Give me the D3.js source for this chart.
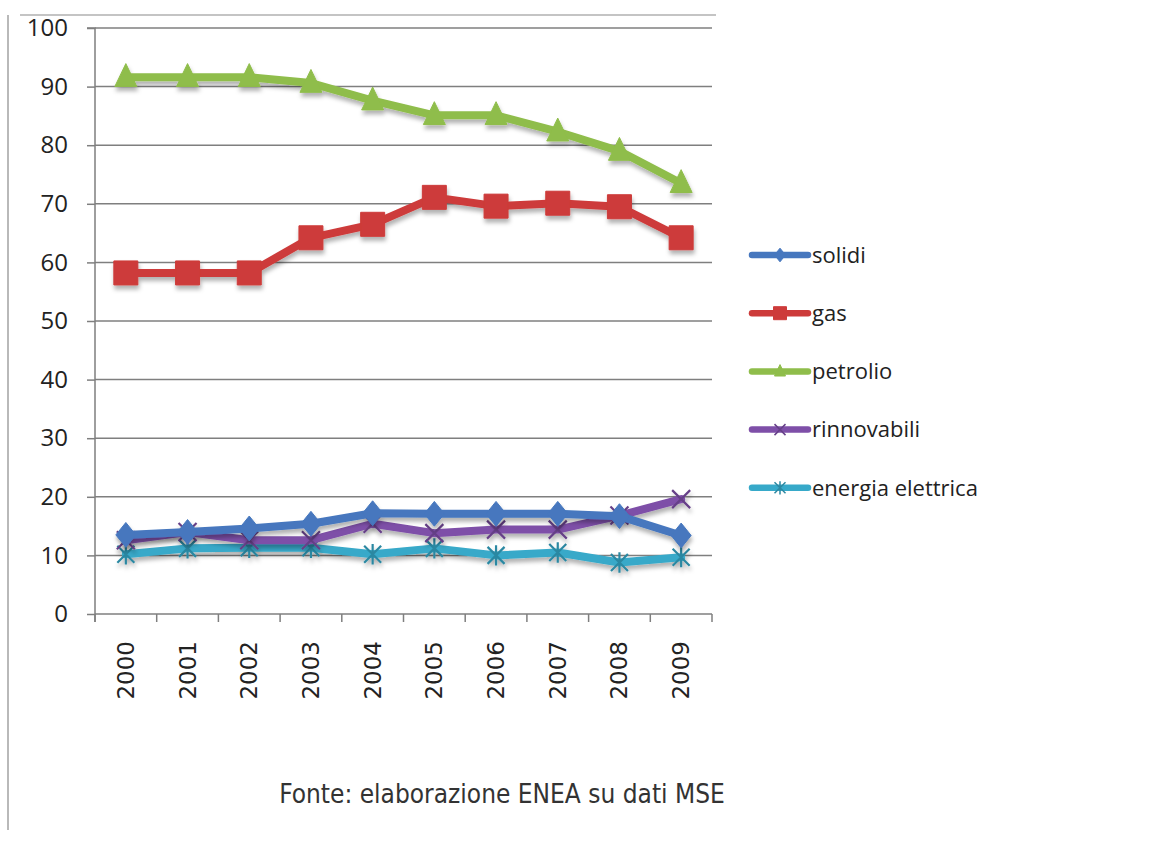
<!DOCTYPE html>
<html>
<head>
<meta charset="utf-8">
<script src="https://cdn.jsdelivr.net/npm/d3@7"></script>
<style>
  html, body { margin: 0; padding: 0; background: #fff; }
  svg { display: block; }
</style>
</head>
<body>
<svg id="chart" width="1149" height="859"></svg>
<script>
// Consumi finali per fonte, 2000-2009
const years = ["2000","2001","2002","2003","2004","2005","2006","2007","2008","2009"];
const solidi = [13.5, 14.0, 14.6, 15.4, 17.2, 17.1, 17.1, 17.1, 16.7, 13.4];
const gas = [58.2, 58.2, 58.2, 64.2, 66.5, 71.1, 69.6, 70.1, 69.5, 64.2];
const petrolio = [91.6, 91.6, 91.6, 90.6, 87.6, 85.1, 85.1, 82.3, 79.0, 73.5];
const rinnovabili = [12.6, 14.0, 12.6, 12.6, 15.4, 13.8, 14.4, 14.4, 16.8, 19.6];
const energiaElettrica = [10.2, 11.2, 11.3, 11.3, 10.2, 11.2, 10.0, 10.5, 8.8, 9.7];
const seriesNames = ["solidi", "gas", "petrolio", "rinnovabili", "energia elettrica"];
const yTicks = [0, 10, 20, 30, 40, 50, 60, 70, 80, 90, 100];
const sourceNote = "Fonte: elaborazione ENEA su dati MSE";

const series = [
  { name: seriesNames[0], values: solidi, color: "#4677BE", marker: "diamond" },
  { name: seriesNames[1], values: gas, color: "#CD3B3A", marker: "square" },
  { name: seriesNames[2], values: petrolio, color: "#8FBD4B", marker: "triangle" },
  { name: seriesNames[3], values: rinnovabili, color: "#7E4FA8", marker: "cross" },
  { name: seriesNames[4], values: energiaElettrica, color: "#37A9C9", marker: "star" }
];

const svg = d3.select("#chart");
const plot = { left: 95, right: 712, top: 28, bottom: 614 };

const x = d3.scaleBand().domain(years).range([plot.left, plot.right]);
const y = d3.scaleLinear().domain([0, 100]).range([plot.bottom, plot.top]);

// soft shadow under the lines
const defs = svg.append("defs");
const f = defs.append("filter").attr("id", "shadow")
  .attr("x", "-10%").attr("y", "-30%").attr("width", "120%").attr("height", "160%");
f.append("feDropShadow").attr("dx", 1).attr("dy", 4).attr("stdDeviation", 2.2)
  .attr("flood-color", "#000").attr("flood-opacity", 0.3);

// outer frame fragments
svg.append("line").attr("x1", 8).attr("x2", 8).attr("y1", 15).attr("y2", 830)
  .attr("stroke", "#8a8a8a").attr("stroke-width", 1.2);
svg.append("line").attr("x1", 20).attr("x2", 716).attr("y1", 15).attr("y2", 15)
  .attr("stroke", "#8a8a8a").attr("stroke-width", 1.2);

// gridlines
svg.append("g").selectAll("line").data(yTicks.filter(d => d > 0)).join("line")
  .attr("x1", plot.left).attr("x2", plot.right)
  .attr("y1", d => y(d)).attr("y2", d => y(d))
  .attr("stroke", "#7f7f7f").attr("stroke-width", 1.5);

// y axis
const yAxis = svg.append("g").attr("transform", `translate(${plot.left},0)`)
  .call(d3.axisLeft(y).tickValues(yTicks).tickSize(8).tickPadding(19).tickFormat(d3.format("d")));
yAxis.select(".domain").attr("stroke", "#7f7f7f").attr("stroke-width", 1.5)
  .attr("d", `M-8,${plot.top}H0V${plot.bottom + 8}`);
yAxis.selectAll(".tick line").attr("stroke", "#7f7f7f").attr("stroke-width", 1.5);
yAxis.selectAll(".tick text")
  .attr("font-family", "'Open Sans', 'Liberation Sans', sans-serif")
  .attr("font-size", 24).attr("fill", "#222");

// x axis with ticks at category boundaries
const xAxisG = svg.append("g").attr("transform", `translate(0,${plot.bottom})`);
xAxisG.append("line").attr("x1", plot.left).attr("x2", plot.right)
  .attr("stroke", "#7f7f7f").attr("stroke-width", 1.5);
const bounds = years.map(d => x(d)).concat([x(years[years.length - 1]) + x.bandwidth()]);
xAxisG.selectAll("line.tk").data(bounds).join("line").attr("class", "tk")
  .attr("x1", d => d).attr("x2", d => d).attr("y1", 0).attr("y2", 8)
  .attr("stroke", "#7f7f7f").attr("stroke-width", 1.5);
xAxisG.selectAll("text").data(years).join("text")
  .attr("transform", d => `translate(${x(d) + x.bandwidth() / 2 + 8},27) rotate(-90)`)
  .attr("text-anchor", "end")
  .attr("font-family", "'DejaVu Sans', Verdana, sans-serif")
  .attr("font-size", 23).attr("fill", "#222")
  .text(d => d);

// markers
function markerPath(type, s) {
  switch (type) {
    case "diamond": return `M0,${-s * 0.62}L${s * 0.5},0L0,${s * 0.62}L${-s * 0.5},0Z`;
    case "square": return `M${-s / 2},${-s / 2}h${s}v${s}h${-s}Z`;
    case "triangle": return `M0,${-s * 0.62}L${s * 0.5},${s * 0.42}L${-s * 0.5},${s * 0.42}Z`;
    case "cross": return `M${-s / 2},${-s / 2}L${s / 2},${s / 2}M${s / 2},${-s / 2}L${-s / 2},${s / 2}`;
    case "star": return `M${-s / 2},${-s / 2}L${s / 2},${s / 2}M${s / 2},${-s / 2}L${-s / 2},${s / 2}M0,${-s * 0.6}V${s * 0.6}`;
  }
}
const markerSize = { diamond: 20, square: 24, triangle: 22, cross: 18, star: 17 };

const line = d3.line().x((d, i) => x(years[i]) + x.bandwidth() / 2).y(d => y(d));

// lower series first, then gas and petrolio on top
const drawOrder = [4, 3, 0, 1, 2];
drawOrder.forEach(k => {
  const s = series[k];
  const g = svg.append("g").attr("filter", "url(#shadow)");
  g.append("path").datum(s.values).attr("d", line)
    .attr("fill", "none").attr("stroke", s.color).attr("stroke-width", 8)
    .attr("stroke-linejoin", "round").attr("stroke-linecap", "round");
  const filled = s.marker === "diamond" || s.marker === "square" || s.marker === "triangle";
  g.selectAll("path.mk").data(s.values).join("path").attr("class", "mk")
    .attr("transform", (d, i) => `translate(${x(years[i]) + x.bandwidth() / 2},${y(d)})`)
    .attr("d", markerPath(s.marker, markerSize[s.marker]))
    .attr("fill", filled ? s.color : "none")
    .attr("stroke", filled ? s.color : d3.color(s.color).darker(0.6))
    .attr("stroke-width", filled ? 1 : 2.2);
});

// legend
const legend = svg.append("g");
const legendTop = 255, legendStep = 58.2;
series.forEach((s, i) => {
  const gy = legendTop + i * legendStep;
  const g = legend.append("g").attr("transform", `translate(752,${gy})`);
  g.append("line").attr("x1", 0).attr("x2", 56).attr("y1", 0).attr("y2", 0)
    .attr("stroke", s.color).attr("stroke-width", 6.5).attr("stroke-linecap", "round");
  const filled = s.marker === "diamond" || s.marker === "square" || s.marker === "triangle";
  const sz = s.marker === "square" ? 13 : 11;
  g.append("path").attr("transform", "translate(28,0)")
    .attr("d", markerPath(s.marker, sz))
    .attr("fill", filled ? s.color : "none")
    .attr("stroke", filled ? s.color : d3.color(s.color).darker(0.6))
    .attr("stroke-width", filled ? 1 : 1.5);
  g.append("text").attr("x", 60).attr("y", 0).attr("dy", "0.35em")
    .attr("font-family", "'Open Sans', sans-serif")
    .attr("font-size", 22).attr("fill", "#222")
    .text(s.name);
});

// source note
svg.append("text").attr("x", 502).attr("y", 803)
  .attr("text-anchor", "middle")
  .attr("font-family", "'DejaVu Sans Condensed', 'DejaVu Sans', sans-serif")
  .attr("font-size", 26).attr("fill", "#333")
  .text(sourceNote);
</script>
</body>
</html>
